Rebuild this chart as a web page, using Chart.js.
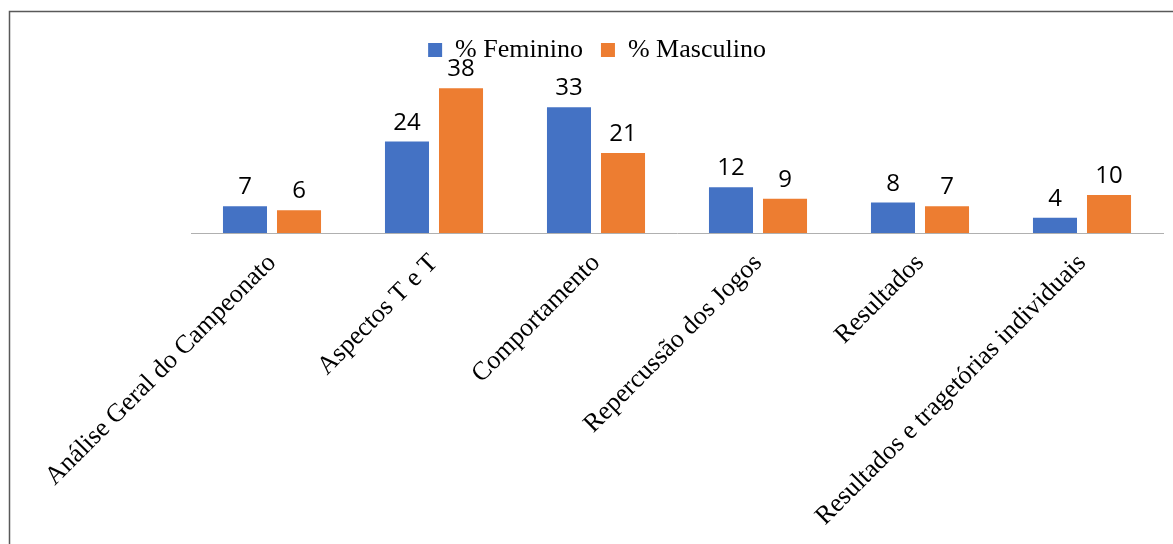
<!DOCTYPE html>
<html>
<head>
<meta charset="utf-8">
<script src="https://cdn.jsdelivr.net/npm/chart.js@4"></script>
<style>
  html, body { margin: 0; padding: 0; background: #fff; }
  canvas { display: block; }
</style>
</head>
<body>
<canvas id="chart" width="1173" height="544"></canvas>
<script>
const categories = [
  'Análise Geral do Campeonato',
  'Aspectos T e T',
  'Comportamento',
  'Repercussão dos Jogos',
  'Resultados',
  'Resultados e tragetórias individuais'
];
const feminino = [7, 24, 33, 12, 8, 4];
const masculino = [6, 38, 21, 9, 7, 10];
const seriesNames = ['% Feminino', '% Masculino'];

// frame around the whole picture
const framePlugin = {
  id: 'frame',
  beforeDraw(chart) {
    const ctx = chart.ctx;
    ctx.save();
    ctx.strokeStyle = '#595959';
    ctx.lineWidth = 1.5;
    ctx.strokeRect(9.5, 11.5, 1400, 800);
    ctx.restore();
  }
};

// value above each bar
const valueLabels = {
  id: 'valueLabels',
  afterDatasetsDraw(chart) {
    const ctx = chart.ctx;
    ctx.save();
    ctx.font = '24px "Open Sans"';
    ctx.fillStyle = '#000';
    ctx.textAlign = 'center';
    ctx.textBaseline = 'alphabetic';
    chart.data.datasets.forEach((ds, i) => {
      const meta = chart.getDatasetMeta(i);
      meta.data.forEach((bar, j) => {
        ctx.fillText(ds.data[j], bar.x, bar.y - 12);
      });
    });
    ctx.restore();
  }
};

new Chart(document.getElementById('chart'), {
  type: 'bar',
  data: {
    labels: categories,
    datasets: [
      {
        label: seriesNames[0],
        data: feminino,
        backgroundColor: '#4472C4',
        categoryPercentage: 0.667,
        barPercentage: 0.815
      },
      {
        label: seriesNames[1],
        data: masculino,
        backgroundColor: '#ED7D31',
        categoryPercentage: 0.667,
        barPercentage: 0.815
      }
    ]
  },
  options: {
    responsive: false,
    animation: false,
    layout: { padding: { left: 31, right: 10, top: 19, bottom: 0 } },
    plugins: {
      legend: {
        position: 'top',
        labels: {
          boxWidth: 14,
          boxHeight: 14,
          padding: 18,
          color: '#000',
          font: { family: '"Liberation Serif"', size: 26 }
        }
      },
      tooltip: { enabled: false }
    },
    scales: {
      x: {
        grid: { display: false },
        border: { display: true, color: '#b0b0b0', width: 1 },
        ticks: {
          autoSkip: false,
          minRotation: 45,
          maxRotation: 45,
          padding: 7,
          color: '#000',
          font: { family: '"Liberation Serif"', size: 26 }
        },
        afterFit(scale) { scale.height = 544 - 233; }
      },
      y: {
        min: 0,
        max: 42,
        grid: { display: false },
        border: { display: false },
        ticks: { display: false },
        afterFit(scale) { scale.width = 160; }
      }
    }
  },
  plugins: [framePlugin, valueLabels]
});
</script>
</body>
</html>
